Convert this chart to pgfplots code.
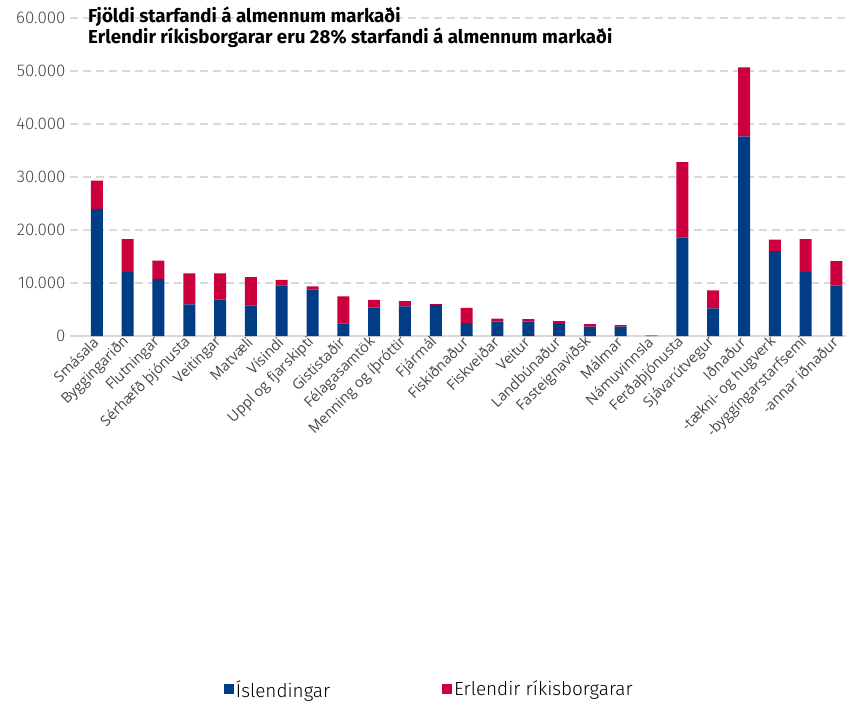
\documentclass[border=0pt]{standalone}
\usepackage{pgfplots}
\pgfplotsset{compat=1.18}
\usepackage{pgfplotstable}
\usepackage{fontspec}
\setmainfont{Open Sans}
\newfontfamily\fira{Fira Sans}
\newfontfamily\firal{Fira Sans}[UprightFont=* Light]
\definecolor{isl}{RGB}{0,61,133}
\definecolor{erl}{RGB}{204,0,60}
\definecolor{gridc}{RGB}{217,217,217}
\definecolor{lbl}{RGB}{70,70,70}

% x = flokkur, isl = Íslendingar, erl = Erlendir ríkisborgarar
\pgfplotstableread{
x isl erl
0 24000 5300
1 12100 6200
2 10750 3450
3 5970 5830
4 6900 4900
5 5800 5300
6 9550 1050
7 8750 620
8 2400 5080
9 5350 1450
10 5600 1000
11 5850 150
12 2450 2850
13 2700 600
14 2700 500
15 2300 500
16 1750 500
17 1750 300
18 60 30
19 18550 14250
20 5200 3400
21 37600 13100
22 16000 2200
23 12100 6200
24 9500 4650
}\data

\begin{document}
\begin{tikzpicture}
\useasboundingbox (-70bp,-369bp) rectangle (776bp,336bp);
\begin{axis}[
    scale only axis,
    width=776bp, height=318bp,
    clip=false,
    ybar stacked,
    bar width=12bp,
    xmin=-0.87, xmax=24.31,
    ymin=0, ymax=60000,
    xtick={0,...,24},
    xticklabels={Smásala, Byggingariðn, Flutningar, Sérhæfð þjónusta, Veitingar, Matvæli, Vísindi, Uppl og fjarskipti, Gististaðir, Félagasamtök, Menning og íþróttir, Fjármál, Fiskiðnaður, Fiskveiðar, Veitur, Landbúnaður, Fasteignaviðsk, Málmar, Námuvinnsla, Ferðaþjónusta, Sjávarútvegur, Iðnaður, -tækni- og hugverk, -byggingarstarfsemi, -annar iðnaður},
    ytick={0,10000,...,60000},
    scaled y ticks=false,
    /pgf/number format/.cd, 1000 sep={.}, assume math mode=true,
    /pgfplots/.cd,
    axis x line=bottom,
    axis y line=left,
    x axis line style={gridc, line width=1.5bp, -},
    y axis line style={draw=none},
    major tick length=0pt,
    ymajorgrids,
    major grid style={gridc, line width=1.5bp, dash pattern=on 8bp off 5bp},
    yticklabel style={font=\firal\fontsize{17}{19}\selectfont, text=lbl, xshift=-1bp},
    xticklabel style={rotate=45, anchor=east, font=\fontsize{14.5}{16}\selectfont, text=lbl, yshift=-2bp},
    legend image code/.code={\path[#1] (0bp,-5bp) rectangle (10bp,5bp);},
    legend style={draw=none, fill=none, legend columns=2,
        at={(axis description cs:0.463,0)}, anchor=north, yshift=-340bp,
        font=\firal\fontsize{19}{21}\selectfont,
        /tikz/every even column/.append style={column sep=110bp}},
]
\addplot[fill=isl, draw=none] table[x=x, y=isl] {\data};
\addplot[fill=erl, draw=none] table[x=x, y=erl] {\data};
\legend{Íslendingar, Erlendir ríkisborgarar}
\node[anchor=base west, inner sep=0pt, font=\fira\bfseries\fontsize{18.8}{21}\selectfont]
    at (rel axis cs:0,1) [xshift=18bp, yshift=-4bp] {Fjöldi starfandi á almennum markaði};
\node[anchor=base west, inner sep=0pt, font=\fira\bfseries\fontsize{18.8}{21}\selectfont]
    at (rel axis cs:0,1) [xshift=18bp, yshift=-25bp] {Erlendir ríkisborgarar eru 28\% starfandi á almennum markaði};
\end{axis}
\end{tikzpicture}
\end{document}
